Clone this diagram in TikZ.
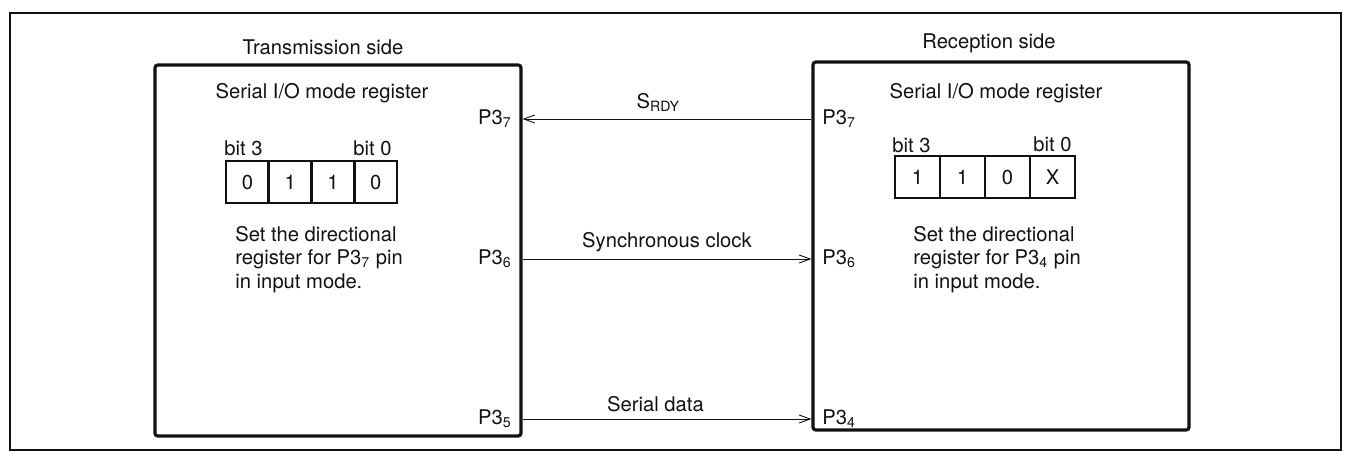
\documentclass[tikz,border=0pt]{standalone}
\usepackage{fontspec}
\setmainfont{TeX Gyre Heros}
\usetikzlibrary{positioning,calc,arrows.meta}
\definecolor{sioink}{HTML}{111111}
\newcommand{\siofont}{\fontsize{11.5}{13.3}\selectfont}
\newcommand{\sioreg}[6]{%
  \foreach \bv [count=\bi from 0] in {#6}{
    \draw[regcell] (#2+\bi*#4,#3) rectangle ++(#4,#5);
    \node[lbl] (#1\bi) at (#2+\bi*#4+#4/2,#3+#5/2) {\bv};}
}
\tikzset{
  lbl/.style={font=\siofont,text=sioink,inner sep=0pt},
  unitbox/.style={draw=sioink,line width=1.8pt,rounded corners=1.5pt,inner sep=0pt},
  regcell/.style={draw=sioink,line width=1.6pt},
  sigline/.style={draw=sioink,line width=0.5pt,-{Straight Barb[length=2.2mm,width=1.6mm]}}
}

\begin{document}
\begin{tikzpicture}[x=0.02cm,y=-0.02cm]
  \useasboundingbox (0,0) rectangle (1349,454);
  % ---------- frame ----------
  \draw[sioink,line width=1.1pt] (10,13) rectangle (1341,450);
  % ---------- transmission side ----------
  \node[lbl] (txtitle) at (323,47) {Transmission side};
  \node[unitbox,minimum width=7.32cm,minimum height=7.42cm] (tx) at (338,250.5) {};
  \node[lbl] (txmode) at (322,93) {Serial I/O mode register};
  \node[lbl,anchor=south west] (txb3) at (224,156) {bit 3};
  \node[lbl,anchor=south east] (txb0) at (392,156) {bit 0};
  \sioreg{txc}{226}{161}{42.75}{42}{0,1,1,0}
  \node[lbl,anchor=north west,align=left] (txnote) at (235,226)
        {Set the directional\\register for P3\textsubscript{7} pin\\in input mode.};
  \node[lbl,anchor=east] (txp7) at (512,119) {P3\textsubscript{7}};
  \node[lbl,anchor=east] (txp6) at (512,259) {P3\textsubscript{6}};
  \node[lbl,anchor=east] (txp5) at (512,419) {P3\textsubscript{5}};
  % ---------- reception side ----------
  \node[lbl] (rxtitle) at (989,43) {Reception side};
  \node[unitbox,minimum width=7.52cm,minimum height=7.36cm] (rx) at (1001,246) {};
  \node[lbl] (rxmode) at (996,93) {Serial I/O mode register};
  \node[lbl,anchor=south west] (rxb3) at (892,153) {bit 3};
  \node[lbl,anchor=south east] (rxb0) at (1072,152) {bit 0};
  \sioreg{rxc}{895}{156}{45}{42}{1,1,0,X}
  \node[lbl,anchor=north west,align=left] (rxnote) at (913,226)
        {Set the directional\\register for P3\textsubscript{4} pin\\in input mode.};
  \node[lbl,anchor=west] (rxp7) at (822,119) {P3\textsubscript{7}};
  \node[lbl,anchor=west] (rxp6) at (822,259) {P3\textsubscript{6}};
  \node[lbl,anchor=west] (rxp4) at (822,419) {P3\textsubscript{4}};
  % ---------- signals ----------
  \draw[sigline] (rxp7 -| rx.west) -- node[lbl,above=4pt,pos=0.53] (srdy) {S\textsubscript{RDY}} (txp7 -| tx.east);
  \draw[sigline] (txp6 -| tx.east) -- node[lbl,above=4pt] (sclk) {Synchronous clock} (rxp6 -| rx.west);
  \draw[sigline] (txp5 -| tx.east) -- node[lbl,above=4pt,pos=0.46] (sdat) {Serial data} (rxp4 -| rx.west);
\end{tikzpicture}
\end{document}
